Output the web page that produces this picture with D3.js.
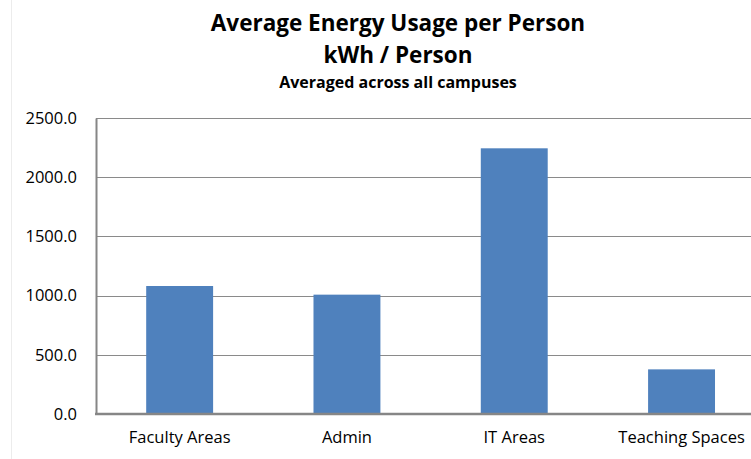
<!DOCTYPE html>
<html>
<head>
<meta charset="utf-8">
<script src="https://cdn.jsdelivr.net/npm/d3@7"></script>
<style>
  html, body { margin: 0; padding: 0; background: #fff; }
  svg { display: block; }
  text { font-family: "Open Sans", Lato, sans-serif; fill: #000; }
</style>
</head>
<body>
<svg id="chart" width="751" height="459"></svg>
<script>
// Average kWh per person by area type
const categories = ["Faculty Areas", "Admin", "IT Areas", "Teaching Spaces"];
const usage = [1081, 1008, 2244, 377];
const yTicks = [0, 500, 1000, 1500, 2000, 2500];
const titleLines = ["Average Energy Usage per Person", "kWh / Person"];
const subtitle = "Averaged across all campuses";

const W = 751, H = 459;
const margin = { left: 96, top: 118, bottom: 414 };
const FONT = '"Open Sans", Lato, sans-serif';
const svg = d3.select("#chart");

// faint outer frame of the chart area
svg.append("line")
  .attr("x1", 11.5).attr("x2", 11.5).attr("y1", 0).attr("y2", H)
  .attr("stroke", "#ececec").attr("stroke-width", 1);

const x = d3.scaleBand()
  .domain(categories)
  .range([margin.left, margin.left + 4 * 167.3])
  .paddingInner(0.6)
  .paddingOuter(0.3);

const y = d3.scaleLinear()
  .domain([0, 2500])
  .range([margin.bottom, margin.top]);

// horizontal gridlines
svg.append("g")
  .selectAll("line")
  .data(yTicks.filter(d => d > 0))
  .join("line")
  .attr("x1", margin.left).attr("x2", W)
  .attr("y1", d => Math.round(y(d)) + 0.5)
  .attr("y2", d => Math.round(y(d)) + 0.5)
  .attr("stroke", "#8a8a8a")
  .attr("stroke-width", 1.2);

// bars
svg.append("g")
  .selectAll("rect")
  .data(categories.map((c, i) => ({ c, v: usage[i] })))
  .join("rect")
  .attr("x", d => x(d.c))
  .attr("width", x.bandwidth())
  .attr("y", d => y(d.v))
  .attr("height", d => y(0) - y(d.v))
  .attr("fill", "#4f81bd");

// value axis
const yAxis = d3.axisLeft(y)
  .tickValues(yTicks)
  .tickFormat(d3.format(".1f"))
  .tickSize(0)
  .tickPadding(19);
const gy = svg.append("g")
  .attr("transform", `translate(${margin.left},0)`)
  .call(yAxis);
gy.select(".domain").attr("stroke", "#868686").attr("stroke-width", 2);
gy.selectAll("text")
  .style("font-family", FONT)
  .attr("font-size", 16.5)
  .attr("fill", "#000");

// category axis
const xAxis = d3.axisBottom(x).tickSize(0).tickPadding(17);
const gx = svg.append("g")
  .attr("transform", `translate(0,${margin.bottom})`)
  .call(xAxis);
gx.select(".domain").remove();
gx.append("line")
  .attr("x1", margin.left - 1).attr("x2", W)
  .attr("y1", 0).attr("y2", 0)
  .attr("stroke", "#868686").attr("stroke-width", 2.5);
gx.selectAll("text")
  .style("font-family", FONT)
  .attr("font-size", 16.5)
  .attr("fill", "#000");

// titles
const cx = 398;
svg.append("text")
  .attr("x", cx).attr("y", 31)
  .attr("text-anchor", "middle")
  .attr("font-weight", "bold")
  .attr("font-size", 22.5)
  .text(titleLines[0]);
svg.append("text")
  .attr("x", cx).attr("y", 63)
  .attr("text-anchor", "middle")
  .attr("font-weight", "bold")
  .attr("font-size", 22.5)
  .text(titleLines[1]);
svg.append("text")
  .attr("x", cx).attr("y", 88)
  .attr("text-anchor", "middle")
  .attr("font-weight", "bold")
  .attr("font-size", 16)
  .text(subtitle);
</script>
</body>
</html>
